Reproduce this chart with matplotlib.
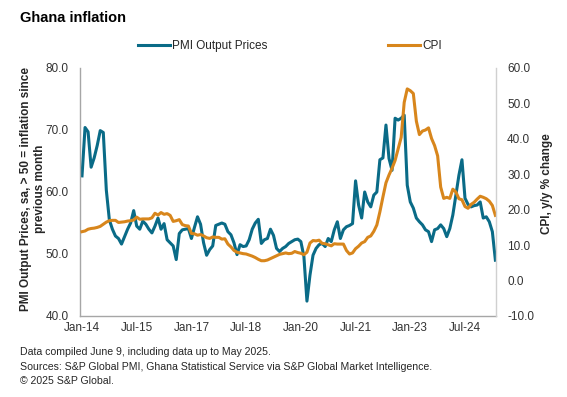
import matplotlib
matplotlib.use('Agg')
import matplotlib.pyplot as plt
from matplotlib.ticker import FormatStrFormatter
import pandas as pd

plt.rcParams['font.family'] = ['Liberation Sans', 'DejaVu Sans']

months = pd.date_range('2014-01-01', '2025-05-01', freq='MS')

pmi = [62.6, 70.4, 69.7, 64.0, 65.5, 67.5, 69.9, 69.6, 60.3, 55.5, 54.0, 52.9,
       52.5, 51.6, 52.8, 54.0, 55.0, 57.0, 54.5, 54.0, 55.3, 54.8, 54.0, 53.4,
       54.5, 55.8, 54.0, 54.9, 52.3, 51.8, 51.3, 49.1, 53.3, 53.9, 54.0, 54.1,
       52.5, 54.3, 56.0, 54.8, 51.8, 49.8, 50.7, 51.3, 54.6, 54.8, 55.0, 54.8,
       53.6, 53.1, 51.8, 49.9, 51.5, 51.2, 51.3, 52.3, 54.0, 55.0, 55.6, 51.7,
       52.3, 52.5, 54.0, 53.0, 50.9, 50.4, 50.9, 51.2, 51.7, 52.0, 52.3, 52.4,
       52.0, 49.6, 42.4, 46.6, 49.8, 50.9, 51.5, 51.7, 51.2, 52.5, 52.0, 53.9,
       55.2, 52.5, 53.9, 54.4, 54.6, 54.9, 61.8, 57.9, 55.8, 60.0, 58.4, 57.6,
       59.5, 60.0, 65.2, 65.5, 70.8, 65.4, 63.5, 71.9, 71.6, 71.9, 72.4, 61.1,
       58.4, 57.4, 55.8, 55.2, 54.7, 53.9, 53.6, 52.0, 53.9, 54.1, 54.7, 54.1,
       52.8, 54.1, 56.3, 59.5, 62.7, 65.2, 59.0, 58.0, 57.6, 57.8, 57.9, 58.4,
       55.8, 56.0, 55.2, 53.6, 49.0]

cpi = [13.8, 14.0, 14.5, 14.7, 14.8, 15.0, 15.3, 15.9, 16.5, 16.9, 17.0, 17.0,
       16.4, 16.5, 16.6, 16.8, 16.9, 17.1, 17.9, 17.3, 17.4, 17.4, 17.4, 17.7,
       19.0, 18.5, 19.2, 18.7, 18.9, 18.4, 16.7, 16.9, 17.2, 15.8, 15.5, 15.4,
       13.3, 13.2, 12.8, 13.0, 12.6, 12.1, 11.9, 12.3, 12.2, 12.2, 11.7, 11.8,
       10.3, 9.5, 8.5, 8.0, 7.8, 7.6, 7.5, 7.2, 6.9, 6.5, 6.0, 5.6,
       5.6, 5.8, 6.2, 6.6, 7.0, 7.4, 7.6, 7.8, 7.6, 7.7, 8.2, 7.9,
       7.7, 7.3, 8.0, 10.6, 11.3, 11.2, 11.4, 10.5, 10.4, 10.1, 9.8, 10.4,
       10.3, 10.3, 10.3, 8.5, 7.5, 7.8, 9.0, 9.7, 10.6, 11.0, 12.2, 12.6,
       13.9, 15.7, 19.4, 23.6, 27.6, 29.8, 31.7, 33.9, 37.2, 40.4, 50.3, 54.1,
       53.6, 52.8, 45.0, 41.2, 42.2, 42.5, 43.1, 40.1, 38.1, 35.2, 26.4, 23.2,
       23.5, 23.2, 25.8, 25.0, 23.1, 22.8, 20.9, 20.4, 21.5, 22.1, 23.0, 23.8,
       23.5, 23.1, 22.4, 21.2, 18.4]

tick_labels = ['Jan-14', 'Jul-15', 'Jan-17', 'Jul-18', 'Jan-20', 'Jul-21', 'Jan-23', 'Jul-24']
left_ticks = [40, 50, 60, 70, 80]
right_ticks = [-10, 0, 10, 20, 30, 40, 50, 60]

title = 'Ghana inflation'
left_label = 'PMI Output Prices, sa, > 50 = inflation since\nprevious month'
right_label = 'CPI, y/y % change'
footnotes = ['Data compiled June 9, including data up to May 2025.',
             'Sources: S&P Global PMI, Ghana Statistical Service via S&P Global Market Intelligence.',
             '\u00a9 2025 S&P Global.']

TEAL = '#0A6B87'
ORANGE = '#D8861C'
GRID = '#A6A6A6'
TXT = '#262626'

W, H = 567, 397
fig = plt.figure(figsize=(W / 100, H / 100), dpi=100)
ax = fig.add_axes([80 / W, 1 - 316 / H, (496 - 80) / W, (316 - 68) / H])
ax2 = ax.twinx()

x = list(range(len(months)))
labels_all = [m.strftime('%b-%y') for m in months]
tick_pos = [labels_all.index(t) for t in tick_labels]

l1, = ax.plot(x, pmi, color=TEAL, lw=2.2, solid_joinstyle='round', label='PMI Output Prices')
l2, = ax2.plot(x, cpi, color=ORANGE, lw=2.2, solid_joinstyle='round', label='CPI')

ax.set_xlim(-0.66, 136.2)
ax.set_ylim(40, 80)
ax2.set_ylim(-10, 60)
ax.set_yticks(left_ticks)
ax2.set_yticks(right_ticks)
ax.yaxis.set_major_formatter(FormatStrFormatter('%.1f'))
ax2.yaxis.set_major_formatter(FormatStrFormatter('%.1f'))
ax.set_xticks(tick_pos)
ax.set_xticklabels(tick_labels)

for a in (ax, ax2):
    a.spines['top'].set_visible(False)
    a.tick_params(length=0, labelsize=8.5, labelcolor='#333333')
ax.spines['right'].set_visible(False)
ax2.spines['left'].set_visible(False)
ax2.spines['bottom'].set_visible(False)
for s in ('left', 'bottom'):
    ax.spines[s].set_color(GRID)
    ax.spines[s].set_linewidth(1.0)
ax2.spines['right'].set_color('#D0D0D0')
ax2.spines['right'].set_linewidth(1.0)
ax.tick_params(axis='y', pad=8)
ax2.tick_params(axis='y', pad=8)
ax.tick_params(axis='x', pad=4)

fig.text(20 / W, 1 - 18 / H, title, fontsize=10.5, fontweight='bold', color='black', va='center', ha='left')
fig.text(33 / W, 1 - 189 / H, left_label, rotation=90, fontsize=8.5, fontweight='bold', color=TXT,
         ha='center', va='center', multialignment='center', linespacing=1.15)
fig.text(547 / W, 1 - 184 / H, right_label, rotation=90, fontsize=8.5, fontweight='bold', color=TXT,
         ha='center', va='center')

for k, t in enumerate(footnotes):
    fig.text(20 / W, 1 - (352 + 14.5 * k) / H, t, fontsize=7.6, color=TXT, va='center', ha='left')

fig.legend(handles=[l1, l2], loc='center left', bbox_to_anchor=(138 / W, 1 - 46 / H), ncol=2,
           frameon=False, fontsize=8.5, borderpad=0, borderaxespad=0, handlelength=2.7,
           handletextpad=0.2, columnspacing=10.2, labelcolor=TXT)

fig.savefig('out.png', dpi=100)
